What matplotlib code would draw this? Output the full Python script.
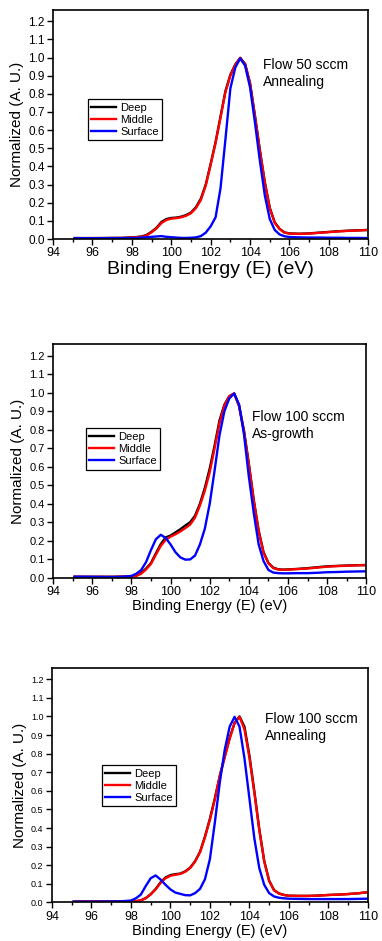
import numpy as np
import matplotlib
matplotlib.use("Agg")
import matplotlib.pyplot as plt
from matplotlib.ticker import MultipleLocator, FormatStrFormatter

plt.rcParams['font.family'] = ['Liberation Sans', 'DejaVu Sans']

# binding energy grid (eV) used for all read-off values
energy = [95.1, 96, 97, 97.5, 98, 98.25, 98.5, 98.75, 99, 99.25, 99.5, 99.75,
          100, 100.25, 100.5, 100.75, 101, 101.25, 101.5, 101.75, 102, 102.25,
          102.5, 102.75, 103, 103.25, 103.5, 103.75, 104, 104.25, 104.5, 104.75,
          105, 105.25, 105.5, 105.75, 106, 106.5, 107, 107.5, 108, 108.5, 109,
          109.5, 110]

# panel 1 : Flow 50 sccm, Annealing
deep1 = [0.005, 0.005, 0.006, 0.006, 0.009, 0.011, 0.014, 0.023, 0.040, 0.062, 0.094, 0.110,
         0.116, 0.118, 0.123, 0.132, 0.146, 0.175, 0.222, 0.300, 0.415, 0.535,
         0.675, 0.815, 0.905, 0.962, 0.998, 0.965, 0.858, 0.678, 0.488, 0.312,
         0.172, 0.092, 0.056, 0.036, 0.031, 0.029, 0.031, 0.035, 0.039, 0.043, 0.046,
         0.048, 0.050]
middle1 = [0.005, 0.005, 0.005, 0.006, 0.008, 0.010, 0.012, 0.020, 0.037, 0.058, 0.088, 0.105,
           0.112, 0.115, 0.120, 0.128, 0.142, 0.170, 0.215, 0.295, 0.410, 0.530,
           0.670, 0.810, 0.900, 0.960, 0.998, 0.962, 0.855, 0.675, 0.485, 0.310,
           0.170, 0.090, 0.055, 0.035, 0.030, 0.028, 0.030, 0.034, 0.038, 0.042, 0.045,
           0.047, 0.050]
surface1 = [0.005, 0.004, 0.005, 0.005, 0.005, 0.006, 0.008, 0.010, 0.012, 0.014, 0.016, 0.012,
            0.010, 0.008, 0.006, 0.006, 0.007, 0.009, 0.016, 0.035, 0.070, 0.120,
            0.280, 0.550, 0.830, 0.945, 0.995, 0.955, 0.835, 0.640, 0.430, 0.240,
            0.110, 0.050, 0.025, 0.015, 0.011, 0.009, 0.008, 0.008, 0.007, 0.007, 0.006,
            0.006, 0.005]

# panel 2 : Flow 100 sccm, As-growth
deep2 = [0.005, 0.005, 0.005, 0.006, 0.008, 0.012, 0.026, 0.050, 0.080, 0.132, 0.182, 0.218,
         0.228, 0.245, 0.262, 0.282, 0.300, 0.335, 0.400, 0.485, 0.590, 0.715,
         0.850, 0.935, 0.980, 0.995, 0.930, 0.795, 0.615, 0.420, 0.255, 0.138,
         0.080, 0.054, 0.046, 0.044, 0.045, 0.048, 0.052, 0.057, 0.062, 0.064, 0.066,
         0.068, 0.069]
middle2 = [0.005, 0.005, 0.005, 0.006, 0.006, 0.010, 0.022, 0.045, 0.075, 0.125, 0.172, 0.205,
           0.222, 0.235, 0.250, 0.268, 0.287, 0.325, 0.390, 0.470, 0.570, 0.700,
           0.835, 0.930, 0.980, 0.995, 0.925, 0.790, 0.610, 0.415, 0.250, 0.135,
           0.078, 0.052, 0.045, 0.043, 0.044, 0.047, 0.050, 0.055, 0.060, 0.063, 0.065,
           0.067, 0.068]
surface2 = [0.006, 0.005, 0.004, 0.005, 0.010, 0.022, 0.042, 0.085, 0.150, 0.208, 0.232, 0.215,
            0.180, 0.138, 0.110, 0.098, 0.099, 0.120, 0.180, 0.265, 0.400, 0.580,
            0.770, 0.900, 0.968, 0.995, 0.935, 0.775, 0.545, 0.350, 0.180, 0.090,
            0.042, 0.028, 0.025, 0.024, 0.024, 0.025, 0.025, 0.027, 0.030, 0.031, 0.033,
            0.034, 0.035]

# panel 3 : Flow 100 sccm, Annealing
deep3 = [0.004, 0.005, 0.005, 0.005, 0.006, 0.007, 0.011, 0.023, 0.044, 0.072, 0.108, 0.134,
         0.147, 0.152, 0.155, 0.167, 0.187, 0.222, 0.272, 0.355, 0.450, 0.560,
         0.680, 0.785, 0.885, 0.965, 1.000, 0.945, 0.790, 0.598, 0.395, 0.224,
         0.117, 0.066, 0.048, 0.040, 0.036, 0.035, 0.035, 0.037, 0.040, 0.042, 0.045,
         0.049, 0.055]
middle3 = [0.004, 0.005, 0.005, 0.005, 0.006, 0.007, 0.011, 0.023, 0.043, 0.070, 0.105, 0.130,
           0.143, 0.149, 0.153, 0.165, 0.185, 0.220, 0.270, 0.350, 0.445, 0.555,
           0.680, 0.780, 0.880, 0.965, 0.998, 0.930, 0.780, 0.590, 0.390, 0.220,
           0.115, 0.065, 0.048, 0.040, 0.036, 0.035, 0.035, 0.037, 0.040, 0.042, 0.045,
           0.049, 0.055]
surface3 = [0.004, 0.004, 0.005, 0.006, 0.010, 0.022, 0.042, 0.088, 0.130, 0.145, 0.123, 0.095,
            0.070, 0.053, 0.046, 0.039, 0.038, 0.050, 0.073, 0.125, 0.233, 0.430,
            0.645, 0.820, 0.945, 0.998, 0.945, 0.775, 0.560, 0.345, 0.185, 0.095,
            0.050, 0.032, 0.025, 0.022, 0.020, 0.019, 0.018, 0.018, 0.018, 0.018, 0.018,
            0.019, 0.020]

labels = ['Deep', 'Middle', 'Surface']
colors = ['black', '#ff0000', '#0000ff']
notes = ['Flow 50 sccm\nAnnealing', 'Flow 100 sccm\nAs-growth', 'Flow 100 sccm\nAnnealing']

panels = [(deep1, middle1, surface1), (deep2, middle2, surface2), (deep3, middle3, surface3)]

# axes rectangles [left, bottom, width, height]
rects = [[0.139, 0.746, 0.825, 0.243],
         [0.139, 0.386, 0.820, 0.248],
         [0.136, 0.041, 0.827, 0.249]]
legpos = [(0.111, 0.611), (0.105, 0.640), (0.158, 0.585)]
notepos = [(0.667, 0.79), (0.635, 0.717), (0.674, 0.812)]
xlabsize = [14, 10.5, 10.5]
ytsize = [8.5, 8, 6.5]

fig = plt.figure(figsize=(3.82, 9.41), dpi=100)

for i in range(3):
    ax = fig.add_axes(rects[i])
    for k in range(3):
        ax.plot(energy, panels[i][k], color=colors[k], lw=1.7, label=labels[k])
    ax.set_xlim(94, 110)
    ax.set_ylim(0, 1.26)
    ax.xaxis.set_major_locator(MultipleLocator(2))
    ax.xaxis.set_minor_locator(MultipleLocator(1))
    ax.yaxis.set_major_locator(MultipleLocator(0.1))
    ax.yaxis.set_major_formatter(FormatStrFormatter('%.1f'))
    ax.tick_params(axis='x', which='major', direction='out', length=4, width=1, labelsize=9, pad=2)
    ax.tick_params(axis='x', which='minor', direction='out', length=2.5, width=1)
    ax.tick_params(axis='y', which='major', direction='out', length=4, width=1, labelsize=ytsize[i], pad=2)
    for s in ax.spines.values():
        s.set_linewidth(1.2)
    ax.set_xlabel('Binding Energy (E) (eV)', fontsize=xlabsize[i], labelpad=1)
    ax.set_ylabel('Normalized (A. U.)', fontsize=11, labelpad=3)
    ax.text(notepos[i][0], notepos[i][1], notes[i], transform=ax.transAxes,
            fontsize=10, va='top', ha='left', linespacing=1.25)
    leg = ax.legend(loc='upper left', bbox_to_anchor=legpos[i], fontsize=8,
                    frameon=True, fancybox=False, edgecolor='black', framealpha=1,
                    borderpad=0.3, labelspacing=0.2, handlelength=2.2,
                    handletextpad=0.4, borderaxespad=0)
    leg.get_frame().set_linewidth(0.9)

fig.savefig('out.png', dpi=100)
